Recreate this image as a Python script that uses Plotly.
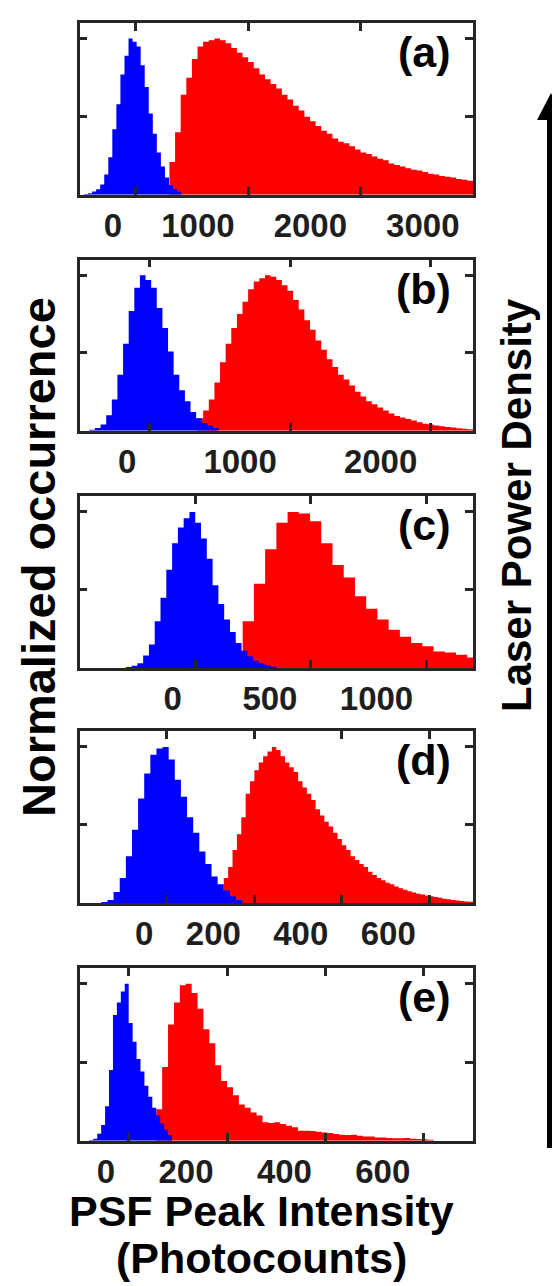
import plotly.graph_objects as go

# ---------------- data (normalized histograms) ----------------
panel_labels = ["(a)", "(b)", "(c)", "(d)", "(e)"]

# panel (a)
blue_a_start, blue_a_binw = -460, 36
blue_a = [0.005, 0.01, 0.02, 0.035, 0.065, 0.13, 0.24, 0.42, 0.58, 0.77, 0.89, 1.0,
          0.98, 0.95, 0.83, 0.69, 0.52, 0.39, 0.27, 0.18, 0.11, 0.06, 0.035, 0.02]
red_a_start, red_a_binw = 300, 50
red_a = [0.21, 0.40, 0.64, 0.75, 0.87, 0.95, 0.98, 0.99, 1.0, 0.99, 0.97, 0.94, 0.91,
         0.88, 0.85, 0.81, 0.77, 0.74, 0.71, 0.68, 0.64, 0.61, 0.57, 0.54, 0.50, 0.47,
         0.44, 0.41, 0.39, 0.36, 0.34, 0.33, 0.31, 0.29, 0.27, 0.26, 0.245, 0.23, 0.22,
         0.20, 0.19, 0.18, 0.17, 0.16, 0.155, 0.145, 0.135, 0.13, 0.12, 0.115, 0.11,
         0.10, 0.095, 0.09]

# panel (b)
blue_b_start, blue_b_binw = -430, 40
blue_b = [0.006, 0.017, 0.04, 0.10, 0.20, 0.36, 0.56, 0.77, 0.92, 1.0, 0.97, 0.92,
          0.79, 0.66, 0.51, 0.36, 0.26, 0.19, 0.12, 0.08, 0.05, 0.034, 0.017]
red_b_start, red_b_binw = 340, 40
red_b = [0.08, 0.13, 0.20, 0.31, 0.44, 0.56, 0.66, 0.75, 0.83, 0.91, 0.96, 0.98, 1.0,
         0.99, 0.97, 0.935, 0.90, 0.84, 0.78, 0.71, 0.65, 0.58, 0.52, 0.46, 0.41, 0.36,
         0.33, 0.29, 0.25, 0.22, 0.19, 0.17, 0.15, 0.13, 0.11, 0.095, 0.085, 0.075,
         0.065, 0.055, 0.045, 0.04, 0.033, 0.028, 0.023, 0.02, 0.015, 0.012, 0.01]

# panel (c)
blue_c_start, blue_c_binw = -300, 25
blue_c = [0.006, 0.015, 0.03, 0.08, 0.15, 0.30, 0.45, 0.63, 0.80, 0.90, 0.96, 1.0,
          0.93, 0.83, 0.70, 0.53, 0.41, 0.31, 0.23, 0.16, 0.11, 0.075, 0.047, 0.03,
          0.02, 0.01]
red_c_start, red_c_binw = 205, 48.5
red_c = [0.30, 0.54, 0.76, 0.93, 1.0, 0.99, 0.94, 0.80, 0.66, 0.58, 0.46, 0.38, 0.31,
         0.245, 0.20, 0.16, 0.14, 0.106, 0.10, 0.085, 0.068]

# panel (d)
blue_d_start, blue_d_binw = -150, 14
blue_d = [0.006, 0.02, 0.07, 0.16, 0.30, 0.47, 0.67, 0.83, 0.95, 0.99, 1.0, 0.92, 0.79,
          0.68, 0.55, 0.45, 0.33, 0.25, 0.17, 0.12, 0.08, 0.043, 0.02]
red_d_start, red_d_binw = 130, 10
red_d = [0.16, 0.23, 0.34, 0.44, 0.55, 0.70, 0.78, 0.85, 0.90, 0.94, 0.97, 1.0, 0.98,
         0.94, 0.90, 0.87, 0.84, 0.78, 0.74, 0.70, 0.66, 0.60, 0.56, 0.52, 0.49, 0.45,
         0.41, 0.37, 0.34, 0.30, 0.275, 0.25, 0.23, 0.20, 0.18, 0.16, 0.145, 0.13, 0.12,
         0.105, 0.095, 0.085, 0.075, 0.067, 0.06, 0.055, 0.048, 0.043, 0.038, 0.033,
         0.028, 0.024, 0.02, 0.016, 0.013, 0.01, 0.008]

# panel (e)
blue_e_start, blue_e_binw = -80, 8
blue_e = [0.005, 0.012, 0.045, 0.10, 0.22, 0.45, 0.80, 0.88, 0.95, 1.0, 0.75, 0.63,
          0.52, 0.44, 0.35, 0.28, 0.21, 0.16, 0.11, 0.07, 0.035]
red_e_start, red_e_binw = 56, 12
red_e = [0.20, 0.47, 0.74, 0.88, 0.99, 1.0, 0.94, 0.84, 0.71, 0.62, 0.48, 0.38, 0.34,
         0.29, 0.23, 0.21, 0.18, 0.16, 0.117, 0.113, 0.117, 0.106, 0.096, 0.085, 0.064,
         0.064, 0.062, 0.057, 0.053, 0.049, 0.043, 0.038, 0.036, 0.038, 0.032, 0.026,
         0.026, 0.021, 0.021, 0.017, 0.015, 0.015, 0.017, 0.013, 0.011, 0.009, 0.006]

# tick labels per panel
ticks_a = [0, 1000, 2000, 3000]
ticks_b = [0, 1000, 2000]
ticks_c = [0, 500, 1000]
ticks_d = [0, 200, 400, 600]
ticks_e = [0, 200, 400, 600]

# ---------------- layout config ----------------
x_ranges = [[-500, 3000], [-500, 2300], [-500, 1200], [-200, 700], [-100, 700]]
x_dom = [71.5 / 560, 465 / 560]
H = 1286
panel_px = [(15, 186.7), (251.7, 422.7), (488.3, 660), (723.3, 895), (960, 1132.7)]

FONT = "Liberation Sans, Arial, sans-serif"
AX = "#262626"

series = [
    (blue_a_start, blue_a_binw, blue_a, red_a_start, red_a_binw, red_a, ticks_a),
    (blue_b_start, blue_b_binw, blue_b, red_b_start, red_b_binw, red_b, ticks_b),
    (blue_c_start, blue_c_binw, blue_c, red_c_start, red_c_binw, red_c, ticks_c),
    (blue_d_start, blue_d_binw, blue_d, red_d_start, red_d_binw, red_d, ticks_d),
    (blue_e_start, blue_e_binw, blue_e, red_e_start, red_e_binw, red_e, ticks_e),
]


def step(start, w, vals):
    xs = [start + i * w for i in range(len(vals) + 1)]
    ys = list(vals) + [vals[-1]]
    return xs, ys


fig = go.Figure()
layout = {}
annotations = []
for i, (bs, bw, bv, rs, rw, rv, tk) in enumerate(series):
    n = i + 1
    xa = "x" if n == 1 else f"x{n}"
    ya = "y" if n == 1 else f"y{n}"
    for (s, w, v, col) in [(rs, rw, rv, "#ff0000"), (bs, bw, bv, "#0000ff")]:
        xs, ys = step(s, w, v)
        fig.add_trace(go.Scatter(x=xs, y=ys, xaxis=xa, yaxis=ya, mode="lines",
                                 line=dict(shape="hv", width=0, color=col),
                                 fill="tozeroy", fillcolor=col, showlegend=False,
                                 hoverinfo="skip"))
    top, bot = panel_px[i]
    layout["xaxis" if n == 1 else f"xaxis{n}"] = dict(
        domain=x_dom, anchor=ya, range=x_ranges[i], tickvals=tk,
        ticktext=[str(t) for t in tk], ticks="inside", ticklen=8, tickwidth=2.5,
        tickcolor=AX, showline=True, linewidth=2.5, linecolor=AX, mirror="ticks",
        showgrid=False, zeroline=False, ticklabelposition="outside left",
        ticklabelshift=-11,
        tickfont=dict(family=FONT, size=33, color="#1e1e1e", weight=700))
    layout["yaxis" if n == 1 else f"yaxis{n}"] = dict(
        domain=[1 - bot / H, 1 - top / H], anchor=xa, range=[0, 1.1],
        tickvals=[0, 0.5, 1], showticklabels=False, ticks="inside", ticklen=8,
        tickwidth=2.5, tickcolor=AX, showline=True, linewidth=2.5, linecolor=AX,
        mirror="ticks", showgrid=False, zeroline=False)
    annotations.append(dict(text=panel_labels[i], xref=f"{xa} domain", yref=f"{ya} domain",
                            x=0.95, y=0.83, xanchor="right", yanchor="middle",
                            showarrow=False,
                            font=dict(family=FONT, size=43, color="black", weight=700)))

annotations += [
    dict(text="Normalized occurrence", xref="paper", yref="paper", x=30 / 560,
         y=1 - 549 / H, textangle=-90, xanchor="center", yanchor="middle",
         showarrow=False, font=dict(family=FONT, size=47, color="black", weight=700)),
    dict(text="PSF Peak Intensity", xref="paper", yref="paper", x=253.5 / 560,
         y=1 - 1203 / H, xanchor="center", yanchor="middle", showarrow=False,
         font=dict(family=FONT, size=43, color="black", weight=700)),
    dict(text="(Photocounts)", xref="paper", yref="paper", x=253.5 / 560,
         y=1 - 1250 / H, xanchor="center", yanchor="middle", showarrow=False,
         font=dict(family=FONT, size=43, color="black", weight=700)),
    dict(text="Laser Power Density", xref="paper", yref="paper", x=508 / 560,
         y=1 - 497 / H, textangle=-90, xanchor="center", yanchor="middle",
         showarrow=False,
         font=dict(family=FONT, size=42, color="black", weight=700)),
]

shapes = [
    dict(type="line", xref="paper", yref="paper", x0=543 / 560, x1=543 / 560,
         y0=1 - 1140 / H, y1=1 - 108 / H, line=dict(color="black", width=8)),
    dict(type="path", xref="paper", yref="paper",
         path=f"M {529/560} {1-112/H} L {557/560} {1-112/H} L {543/560} {1-85/H} Z",
         fillcolor="black", line=dict(color="black", width=0)),
]

fig.update_layout(width=560, height=1286, margin=dict(l=0, r=0, t=0, b=0),
                  paper_bgcolor="white", plot_bgcolor="white",
                  annotations=annotations, shapes=shapes, **layout)
fig.write_html("out.html")
